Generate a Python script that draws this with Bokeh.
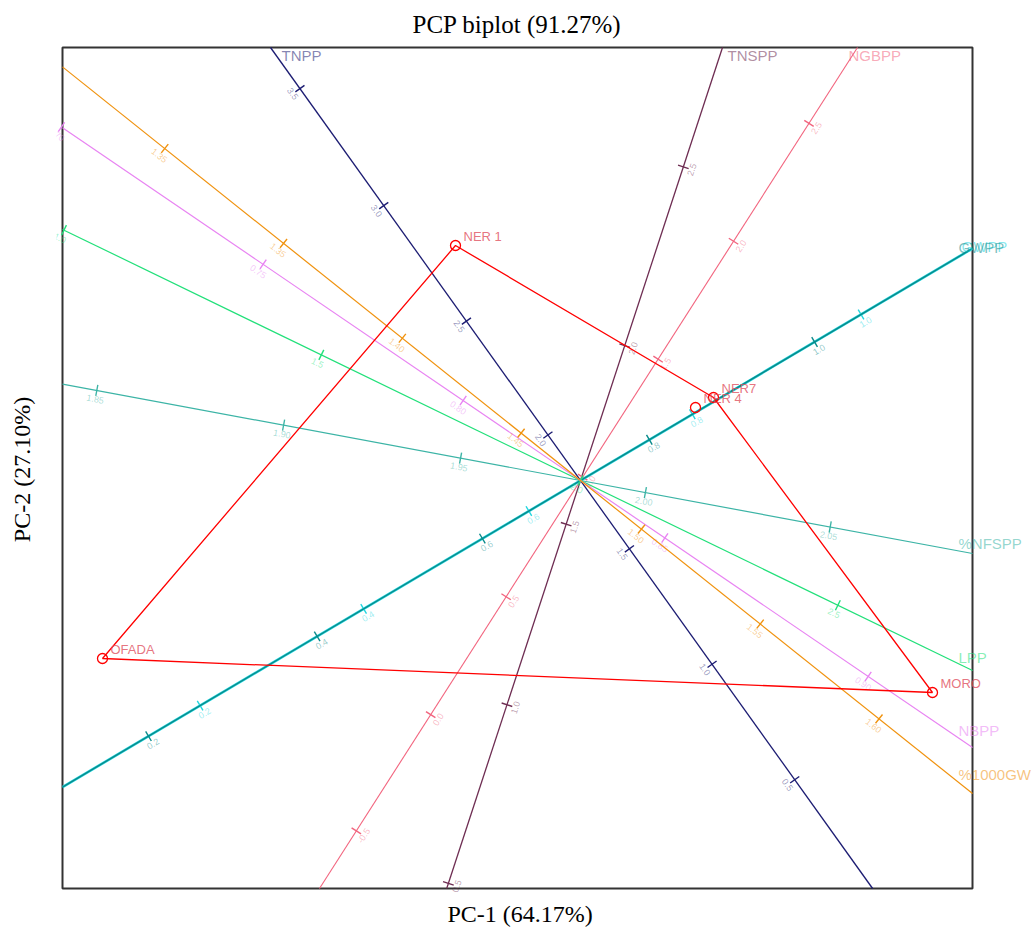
import math
from bokeh.plotting import figure
from bokeh.models import ColumnDataSource, LabelSet, Range1d, FixedTicker, Title
from bokeh.core.properties import value
from bokeh.embed import file_html
from bokeh.resources import INLINE

# ---------------- data ----------------
traits = ["TNPP", "TNSPP", "NGBPP", "GWPP", "GWPP", "%NFSPP", "LPP", "NBPP", "%1000GW"]
load_x = [-0.310, 0.142, 0.277, 0.392, 0.392, 0.392, 0.392, 0.392, 0.392]
load_y = [0.433, 0.433, 0.433, 0.232, 0.232, -0.073, -0.190, -0.267, -0.313]

tick_pos = [
    [2.41, 1.69, 0.98, 0.28, -0.42, -1.13, -1.84],
    [1.65, 0.71, -0.23, -1.18, -2.12],
    [2.12, 1.42, 0.72, 0.02, -0.69, -1.39, -2.08],
    [1.63, 0.65, -0.30, -1.26, -2.21],
    [1.36, 0.40, -0.57, -1.53, -2.51],
    [-2.46, -1.51, -0.61, 0.33, 1.27],
    [-2.87, -1.44, 0.00, 1.43],
    [-3.14, -1.92, -0.71, 0.51, 1.74],
    [-2.66, -1.90, -1.14, -0.38, 0.39, 1.15, 1.91],
]
tick_labels = [
    ["3.5", "3.0", "2.5", "2.0", "1.5", "1.0", "0.5"],
    ["2.5", "2.0", "1.5", "1.0", "0.5"],
    ["2.5", "2.0", "1.5", "1.0", "0.5", "0.0", "-0.5"],
    ["1.0", "0.8", "0.6", "0.4", "0.2"],
    ["1.0", "0.8", "0.6", "0.4", "0.2"],
    ["1.85", "1.90", "1.95", "2.00", "2.05"],
    ["1.0", "1.5", "2.0", "2.5"],
    ["0.70", "0.75", "0.80", "0.85", "0.90"],
    ["1.35", "1.35", "1.40", "1.45", "1.50", "1.55", "1.60"],
]

genotypes = ["NER 1", "NER7", "NER 4", "OFADA", "MORO"]
pc1 = [-0.625, 0.665, 0.575, -2.39, 1.76]
pc2 = [1.175, 0.415, 0.365, -0.89, -1.06]
hull = ["NER 1", "NER7", "MORO", "OFADA", "NER 1"]

# ---------------- styles ----------------
trait_colors = ["#1c1c72", "#6e2d52", "#f2647e", "#22d6e0", "#0a8a8a",
                "#3cb4a6", "#22e07a", "#e884f2", "#f0920e"]
trait_widths = [1.3, 1.3, 1.1, 2.6, 1.4, 1.2, 1.2, 1.2, 1.2]
# label offsets in screen pixels (x right, y up)
lab_dx = [11, 5, -9, -11, -14, -14, -14, -14, -14]
lab_dy = [-8, -8, -8, 2, 1, 10, 13, 17, 19]

# visible box (plot border) and a slightly larger frame
BX0, BX1 = -2.59, 1.96
BY0, BY1 = -2.04, 2.165
FX0, FX1 = -2.62, 2.28
FY0, FY1 = -2.07, 2.18

p = figure(width=1036, height=930, x_range=Range1d(FX0, FX1), y_range=Range1d(FY0, FY1),
           output_backend="svg", toolbar_location=None,
           min_border_left=56, min_border_right=0, min_border_top=44, min_border_bottom=36)
p.xaxis.visible = False

top_title = Title(text="PCP biplot (91.27%)", align="left", offset=356, standoff=10,
                  vertical_align="top",
                  text_font="Liberation Serif", text_font_size="25px",
                  text_font_style="normal", text_color="#000000")
p.add_layout(top_title, "above")
bottom_title = Title(text="PC-1 (64.17%)", align="left", offset=391, standoff=8,
                     text_font="Liberation Serif", text_font_size="24px",
                     text_font_style="normal", text_color="#000000")
p.add_layout(bottom_title, "below")

p.xgrid.visible = False
p.ygrid.visible = False
p.outline_line_color = None
p.background_fill_color = "white"
p.border_fill_color = "white"

ax = p.yaxis[0]
ax.axis_label = "PC-2 (27.10%)"
ax.ticker = FixedTicker(ticks=[])
ax.axis_label_text_font = "Liberation Serif"
ax.axis_label_text_font_size = "24px"
ax.axis_label_text_font_style = "normal"
ax.axis_label_text_color = "#000000"
ax.major_label_standoff = 0
ax.major_tick_out = 0
ax.major_tick_in = 0
ax.major_tick_line_color = None
ax.minor_tick_line_color = None
ax.axis_line_color = None
ax.axis_label_standoff = 22

p.quad(left=[BX0], right=[BX1], bottom=[BY0], top=[BY1], fill_color=None,
       line_color="#333333", line_width=2)


def box_t(ux, uy):
    c = []
    if ux > 0: c.append(BX1 / ux)
    if ux < 0: c.append(BX0 / ux)
    if uy > 0: c.append(BY1 / uy)
    if uy < 0: c.append(BY0 / uy)
    return min(c)


# ---------------- trait axes ----------------
end_x, end_y = [], []
for i, t in enumerate(traits):
    n = math.hypot(load_x[i], load_y[i])
    ux, uy = load_x[i] / n, load_y[i] / n
    tp = box_t(ux, uy)
    tn = box_t(-ux, -uy)
    p.segment(x0=[-tn * ux], y0=[-tn * uy], x1=[tp * ux], y1=[tp * uy],
              line_color=trait_colors[i], line_width=trait_widths[i])
    end_x.append(tp * ux)
    end_y.append(tp * uy)
    px_, py_ = -uy, ux
    if py_ > 0:
        px_, py_ = -px_, -py_
    h = 0.028
    d = tick_pos[i]
    p.segment(x0=[v * ux - h * px_ for v in d], y0=[v * uy - h * py_ for v in d],
              x1=[v * ux + h * px_ for v in d], y1=[v * uy + h * py_ for v in d],
              line_color=trait_colors[i], line_width=1.4)
    ang = math.atan2(uy, ux)
    if ang > math.pi / 2: ang -= math.pi
    if ang <= -math.pi / 2: ang += math.pi
    off = 0.045
    p.text(x=[v * ux + off * px_ for v in d], y=[v * uy + off * py_ for v in d],
           text=tick_labels[i], angle=ang, text_font=value("Liberation Sans"),
           text_font_size="9px", text_color=trait_colors[i], text_alpha=0.45,
           text_align="center", text_baseline="middle")

src_t = ColumnDataSource(dict(x=end_x, y=end_y, text=traits, color=trait_colors,
                              dx=lab_dx, dy=lab_dy))
p.add_layout(LabelSet(x="x", y="y", text="text", source=src_t, x_offset="dx", y_offset="dy",
                      text_color="color", text_alpha=0.55, text_font=value("Liberation Sans"),
                      text_font_size="15px", text_baseline="middle", text_align="left"))

# ---------------- genotypes ----------------
idx = {g: k for k, g in enumerate(genotypes)}
p.line(x=[pc1[idx[g]] for g in hull], y=[pc2[idx[g]] for g in hull],
       line_color="#ff0000", line_width=1.3)
p.scatter(x=pc1, y=pc2, marker="circle", size=10, fill_color=None,
          line_color="#ff0000", line_width=1.3)
src_g = ColumnDataSource(dict(x=pc1, y=pc2, text=genotypes))
p.add_layout(LabelSet(x="x", y="y", text="text", source=src_g, x_offset=8, y_offset=9,
                      text_color="#e0505e", text_alpha=0.8, text_font=value("Liberation Sans"),
                      text_font_size="13px", text_baseline="middle", text_align="left"))

open("out.html", "w").write(file_html(p, INLINE))
